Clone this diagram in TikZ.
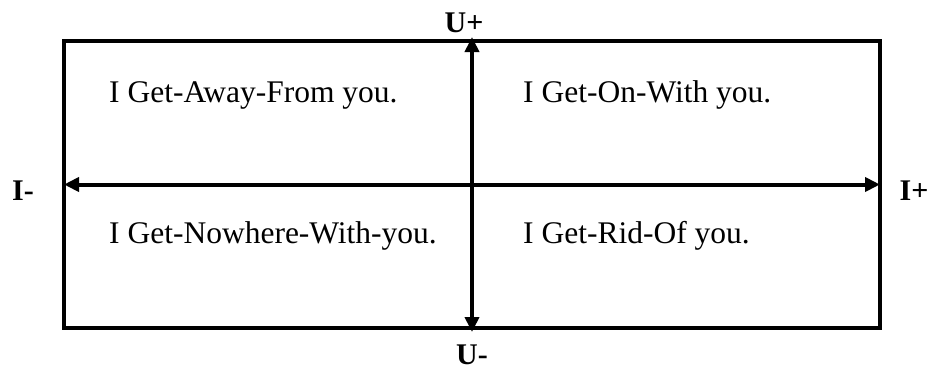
\documentclass[tikz,border=0pt]{standalone}
\usepackage{fontspec}
\setmainfont{Liberation Serif}
\usetikzlibrary{positioning,arrows.meta}

\begin{document}
\begin{tikzpicture}[x=1pt,y=-1pt]
		\useasboundingbox (0,0) rectangle (931,370);
		\tikzset{
			txt/.style={inner sep=0pt, anchor=base west, font=\fontsize{31.5}{36}\selectfont},
			lbl/.style={inner sep=0pt, anchor=base, font=\fontsize{30}{34}\selectfont\bfseries},
			axis/.style={line width=4pt, {Triangle[length=15pt,width=14pt]}-{Triangle[length=15pt,width=14pt]}}
		}
		\node[rectangle, draw=black, line width=4pt, minimum width=816pt, minimum height=287pt, inner sep=0pt] (box) at (472,184.5) {};
		\node[lbl] (Up) at (464,32) {U+};
		\node[lbl] (Um) at (472,364) {U-};
		\node[lbl] (Im) at (23,200) {I-};
		\node[lbl] (Ip) at (914,200) {I+};
		\node[txt] (away) at (109,102) {I Get-Away-From you.};
		\node[txt] (on) at (523,102) {I Get-On-With you.};
		\node[txt] (nowhere) at (109,243) {I Get-Nowhere-With-you.};
		\node[txt] (rid) at (523,243) {I Get-Rid-Of you.};
		
		\draw[axis] ([yshift=-2pt]box.south) -- ([yshift=2pt]box.north);
		\draw[axis] ([xshift=2pt]box.west) -- ([xshift=-2pt]box.east);
	\end{tikzpicture}
\end{document}
